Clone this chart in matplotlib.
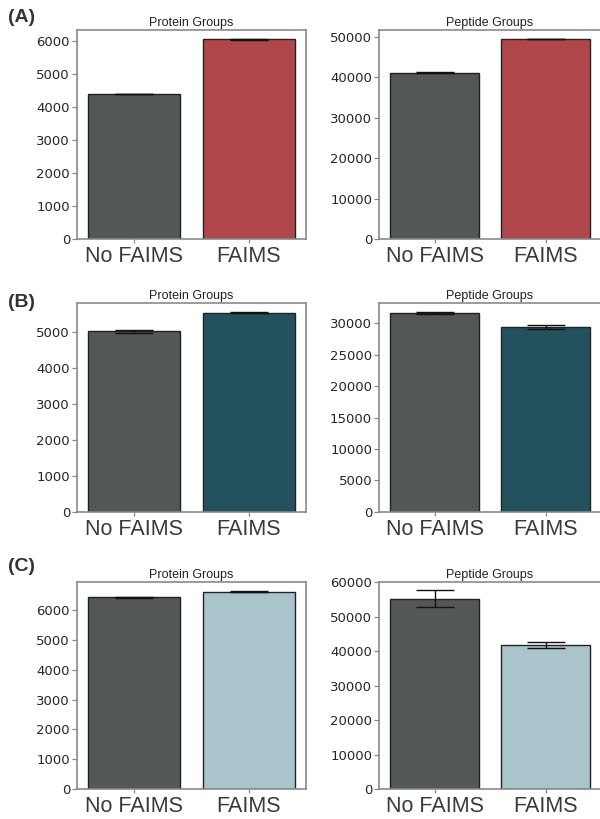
import matplotlib
matplotlib.use("Agg")
import matplotlib.pyplot as plt
import numpy as np

plt.rcParams["font.family"] = ["DejaVu Sans"]

conditions = ["No FAIMS", "FAIMS"]

# protein / peptide group counts (mean, sd) for the three experiments
protein_a = [4380, 6040]
protein_a_err = [8, 6]
peptide_a = [41100, 49360]
peptide_a_err = [150, 60]

protein_b = [5010, 5530]
protein_b_err = [35, 10]
peptide_b = [31590, 29460]
peptide_b_err = [150, 320]

protein_c = [6430, 6620]
protein_c_err = [10, 10]
peptide_c = [55240, 41800]
peptide_c_err = [2400, 850]

panel_labels = ["(A)", "(B)", "(C)"]
faims_colors = ["#b0474b", "#23525e", "#a9c5cb"]
base_color = "#535757"

rows = [
    (protein_a, protein_a_err, peptide_a, peptide_a_err, 6324, 51650, 1000, 10000),
    (protein_b, protein_b_err, peptide_b, peptide_b_err, 5806, 33280, 1000, 5000),
    (protein_c, protein_c_err, peptide_c, peptide_c_err, 6949, 60170, 1000, 10000),
]

# axes boxes in figure fractions: (bottom, height) per row
row_boxes = [(0.7082, 0.2552), (0.3752, 0.2552), (0.0366, 0.2531)]
label_y = [0.989, 0.641, 0.319]

fig = plt.figure(figsize=(6, 8.19), dpi=100)


def draw(ax, vals, errs, color, ymax, step, title):
    x = np.arange(len(conditions))
    ax.bar(x, vals, width=0.8, color=[base_color, color],
           edgecolor="#222222", linewidth=1.0, zorder=2)
    ax.errorbar(x, vals, yerr=errs, fmt="none", ecolor="#111111",
                elinewidth=1.0, capsize=14, capthick=1.0, zorder=3)
    ax.set_xlim(-0.5, 1.5)
    ax.set_ylim(0, ymax)
    ax.set_yticks(np.arange(0, ymax + 1, step))
    ax.set_xticks(x)
    ax.set_xticklabels(conditions, fontsize=15.5, family="Liberation Sans",
                       color="#3a3a3a")
    ax.tick_params(axis="y", labelsize=9.5, labelcolor="#262626",
                   color="#888888", length=3.5, width=0.9, pad=1.5)
    ax.tick_params(axis="x", color="#888888", length=3, width=0.9, pad=2)
    for sp in ax.spines.values():
        sp.set_color("#8a8a8a")
        sp.set_linewidth(1.2)
    ax.set_title(title, fontsize=9, family="Liberation Sans",
                 color="#222222", pad=3)


for i, (prot, prot_err, pep, pep_err, ymax_l, ymax_r, step_l, step_r) in enumerate(rows):
    bottom, height = row_boxes[i]
    ax_l = fig.add_axes([0.1283, bottom, 0.3817, height])
    draw(ax_l, prot, prot_err, faims_colors[i], ymax_l, step_l, "Protein Groups")
    ax_r = fig.add_axes([0.6317, bottom, 0.37, height])
    draw(ax_r, pep, pep_err, faims_colors[i], ymax_r, step_r, "Peptide Groups")
    fig.text(0.013, label_y[i], panel_labels[i], fontsize=14,
             fontweight="bold", family="Liberation Sans", color="#333333",
             ha="left", va="top")

fig.savefig("out.png", dpi=100)
